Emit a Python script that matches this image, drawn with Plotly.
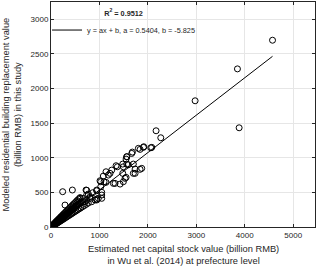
import plotly.graph_objects as go

# Dense cluster strands near the origin (billion RMB)
x_low_a = [8,12,18,22,27,31,36,40,44,49,53,58,62,67,71,76,80,85,90,94,99,104,110,115,121,126,132,138,143,150,156,162,168,175,181,188,195,202,210,218,226,235,243,252,261,270,280,290,300,311,322,334,346,358,371,384,398,412,427,442,458,475,492,510,528,547,566,586,607,628]
y_low_a = [5,7,11,12,16,18,22,23,26,28,31,33,37,38,42,44,47,49,53,54,58,60,64,66,71,72,77,79,83,86,90,93,97,100,104,108,112,117,121,125,130,136,139,145,151,155,162,167,173,180,186,193,199,207,214,222,230,238,246,255,264,274,284,294,305,316,327,338,350,362]

x_low_b = [15,25,35,45,55,65,78,88,98,108,120,130,140,152,165,178,190,205,218,232,248,262,278,295,312,330,350,370,392,415,438,462,488,515,540,570,600]
y_low_b = [11,18,25,31,40,46,55,62,70,77,85,92,99,108,117,126,135,146,155,165,176,186,198,209,222,235,249,262,278,295,311,328,345,365,383,403,425]

x_low_c = [20,32,46,58,72,86,100,115,130,146,162,180,198,216,236,256,278,300,324,348,374,400,428,456,486,516,548,580,614,650,690,730,770]
y_low_c = [9,14,21,26,32,39,45,52,58,66,73,81,89,97,106,115,125,135,146,157,168,180,193,205,219,232,247,261,276,292,310,328,346]

# Scattered mid-range and large prefectures
x_mid = [241,441,737,289,461,531,564,599,667,737,806,944,702,667,840,909,977,1047,806,737,861,723,944,1027,1027,1095,1081,1184,1136,1254,1322,1288,1426,1494,1529,1550,1012,1136,1219,1481,1564,1700,1736,1873,1839,1597,1343,1370,1494,1481,1564,1700,1564,1667,1804,1907,2080,2060,1839,1680,1915,2169,2266,944,1047,1047,944,771,1550,1736]
y_mid = [510,534,530,317,293,317,365,414,365,390,414,390,365,414,365,390,414,462,437,462,495,534,534,582,654,654,736,750,798,822,630,630,620,654,703,717,668,645,775,775,909,909,775,847,833,899,885,870,870,909,1015,775,1015,1063,1136,1150,1150,1144,1121,1082,1159,1390,1289,524,501,414,404,476,981,837]

x_high = [2975,3849,3884,4573]
y_high = [1823,2284,1433,2698]

fit_a = 0.5404
fit_b = -5.825

xs = x_low_a + x_low_b + x_low_c + x_mid + x_high
ys = y_low_a + y_low_b + y_low_c + y_mid + y_high

x_fit = [min(xs), max(xs)]
y_fit = [fit_a * v + fit_b for v in x_fit]

x_ticks = [0, 1000, 2000, 3000, 4000, 5000]
y_ticks = [0, 500, 1000, 1500, 2000, 2500, 3000]

FONT = "Liberation Sans, Arial, sans-serif"
TXT = "#262626"

fig = go.Figure()
fig.add_trace(go.Scatter(
    x=xs, y=ys, mode="markers", showlegend=False,
    marker=dict(symbol="circle-open", size=6, color="black", line=dict(width=1, color="black")),
))
fig.add_trace(go.Scatter(
    x=x_fit, y=y_fit, mode="lines", name="y = ax + b, a = 0.5404, b = -5.825",
    line=dict(color="black", width=1),
))

axis_common = dict(
    showgrid=True, gridcolor="#e6e6e6", gridwidth=1,
    zeroline=False, showline=True, linecolor="#262626", linewidth=1,
    mirror="ticks", ticks="inside", ticklen=3, tickcolor="#262626",
    tickfont=dict(family=FONT, size=8, color=TXT),
)

fig.update_layout(
    width=320, height=268,
    margin=dict(l=51, r=5, t=2, b=41),
    paper_bgcolor="white", plot_bgcolor="white",
    font=dict(family=FONT, size=8, color=TXT),
    xaxis=dict(range=[0, 5450], tickvals=x_ticks, **axis_common),
    yaxis=dict(range=[0, 3250], tickvals=y_ticks, **axis_common),
    legend=dict(
        x=-0.015, y=0.982, xanchor="left", yanchor="top",
        bgcolor="rgba(0,0,0,0)", borderwidth=0,
        font=dict(family=FONT, size=7.3, color=TXT),
        title=dict(text="<b>R<sup>2</sup> = 0.9512</b>", side="top center",
                   font=dict(family=FONT, size=7.3, color=TXT)),
        itemwidth=30, tracegroupgap=0,
    ),
    annotations=[
        dict(text="Estimated net capital stock value (billion RMB)<br>in Wu et al. (2014) at prefecture level",
             xref="paper", yref="paper", x=0.5, y=-0.067, xanchor="center", yanchor="top",
             showarrow=False, font=dict(family=FONT, size=9.3, color=TXT), align="center"),
        dict(text="Modeled residential building replacement value<br>(billion RMB) in this study",
             xref="paper", yref="paper", x=-0.102, y=0.5, xanchor="right", yanchor="middle",
             textangle=-90, showarrow=False, font=dict(family=FONT, size=9.3, color=TXT), align="center"),
    ],
)

fig.write_html("out.html", config={"displayModeBar": False},
               post_script="document.body.style.margin='0';document.body.style.overflow='hidden';")
